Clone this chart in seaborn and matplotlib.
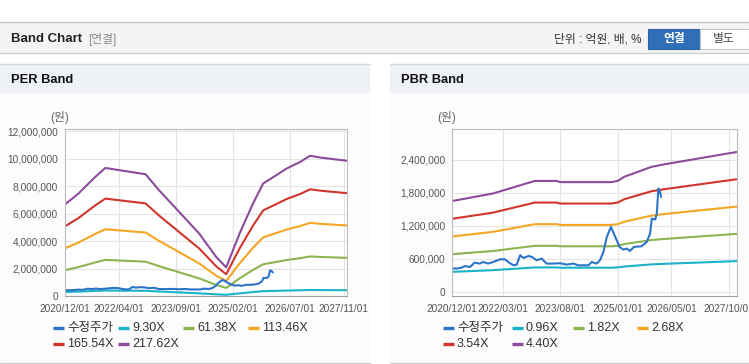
import pandas as pd
import matplotlib
matplotlib.use('Agg')
import matplotlib.pyplot as plt
from matplotlib.lines import Line2D
from matplotlib.patches import Rectangle
from matplotlib.ticker import FuncFormatter
import seaborn as sns

# adjusted close (수정주가) - same series on both charts
price_dates = ['2020-12-01', '2021-01-15', '2021-02-25', '2021-03-25', '2021-05-10', '2021-06-20',
               '2021-08-05', '2021-09-05', '2021-10-20', '2021-12-05', '2022-02-05', '2022-03-20',
               '2022-04-20', '2022-06-05', '2022-07-05', '2022-08-05', '2022-09-05', '2022-10-20',
               '2022-11-20', '2023-01-01', '2023-02-15', '2023-04-01', '2023-06-01', '2023-08-01',
               '2023-09-28', '2023-11-28', '2024-01-12', '2024-04-12', '2024-05-12', '2024-06-25',
               '2024-07-25', '2024-08-25', '2024-09-25', '2024-11-01', '2024-12-10', '2025-01-18',
               '2025-02-20', '2025-03-25', '2025-04-20', '2025-05-28', '2025-08-05', '2025-09-20',
               '2025-10-20', '2025-11-05', '2025-12-05', '2025-12-20', '2026-01-03', '2026-01-18',
               '2026-01-28']
price_values = [420000, 420000, 436000, 465000, 447000, 527000, 509000, 538000, 509000, 538000,
                587000, 587000, 538000, 478000, 491000, 660000, 611000, 647000, 629000, 569000,
                600000, 509000, 509000, 515000, 491000, 509000, 478000, 478000, 538000, 509000,
                569000, 720000, 993000, 1175000, 993000, 811000, 764000, 782000, 738000, 811000,
                824000, 902000, 1055000, 1327000, 1309000, 1418000, 1873000, 1811000, 1720000]

# PER band
per_dates = ['2020-12-01', '2021-04-01', '2021-09-01', '2021-12-01', '2022-04-01', '2022-12-01',
             '2023-04-01', '2023-10-01', '2024-04-01', '2024-09-01', '2024-12-01', '2025-04-01',
             '2025-08-01', '2025-11-01', '2026-03-01', '2026-06-01', '2026-10-01', '2027-01-01',
             '2027-04-01', '2027-12-01']
per_labels = ['9.30X', '61.38X', '113.46X', '165.54X', '217.62X']
per_9_30 = [286000, 319000, 371000, 399000, 392000, 379000, 330000, 262000, 194000, 122000,
            89000, 194000, 288000, 351000, 377000, 397000, 418000, 437000, 432000, 421000]
per_61_38 = [1884000, 2105000, 2449000, 2633000, 2590000, 2504000, 2179000, 1731000, 1283000, 804000,
             589000, 1283000, 1903000, 2314000, 2486000, 2621000, 2756000, 2885000, 2848000, 2780000]
per_113_46 = [3483000, 3892000, 4527000, 4867000, 4788000, 4629000, 4028000, 3200000, 2371000, 1486000,
              1089000, 2371000, 3517000, 4277000, 4595000, 4845000, 5094000, 5333000, 5265000, 5140000]
per_165_54 = [5082000, 5678000, 6605000, 7102000, 6986000, 6754000, 5877000, 4668000, 3460000, 2169000,
              1589000, 3460000, 5132000, 6241000, 6704000, 7069000, 7433000, 7780000, 7681000, 7499000]
per_217_62 = [6681000, 7464000, 8683000, 9336000, 9184000, 8879000, 7725000, 6137000, 4548000, 2851000,
              2089000, 4548000, 6746000, 8204000, 8814000, 9292000, 9771000, 10228000, 10098000, 9858000]
per_ticks = ['2020-12-01', '2022-04-01', '2023-09-01', '2025-02-01', '2026-07-01', '2027-11-01']

# PBR band
pbr_dates = ['2020-12-01', '2021-12-01', '2022-12-15', '2023-07-01', '2023-08-01', '2024-11-01',
             '2025-01-01', '2025-03-01', '2025-11-01', '2026-03-01', '2027-12-16']
pbr_labels = ['0.96X', '1.82X', '2.68X', '3.54X', '4.40X']
pbr_0_96 = [359000, 389000, 439000, 439000, 434000, 434000, 439000, 455000, 494000, 505000, 554000]
pbr_1_82 = [681000, 737000, 832000, 832000, 823000, 823000, 832000, 863000, 937000, 957000, 1050000]
pbr_2_68 = [1002000, 1085000, 1225000, 1225000, 1211000, 1211000, 1225000, 1270000, 1380000, 1410000, 1546000]
pbr_3_54 = [1324000, 1434000, 1618000, 1618000, 1600000, 1600000, 1618000, 1678000, 1823000, 1862000, 2043000]
pbr_4_40 = [1646000, 1782000, 2011000, 2011000, 1989000, 1989000, 2011000, 2086000, 2266000, 2314000, 2539000]
pbr_ticks = ['2020-12-01', '2022-03-01', '2023-08-01', '2025-01-01', '2026-05-01', '2027-10-01']

price_name = '수정주가'
colors = ['#2d74c9', '#1bb3c9', '#8ab54f', '#f5a623', '#d1352c', '#8c4c9b']

sns.set_theme(style='white')
plt.rcParams['font.family'] = ['Liberation Sans', 'Noto Sans CJK KR', 'DejaVu Sans']

W, H = 749, 364
fig = plt.figure(figsize=(W / 100, H / 100), dpi=100)


def fx(x):
    return x / W


def fy(y):
    return 1 - y / H


def box(x0, y0, x1, y1, z=-5, **kw):
    fig.add_artist(Rectangle((fx(x0), fy(y1)), fx(x1) - fx(x0), fy(y0) - fy(y1),
                             transform=fig.transFigure, zorder=z, **kw))


def hline(x0, x1, y, color, lw=1):
    fig.add_artist(Line2D([fx(x0), fx(x1)], [fy(y), fy(y)], color=color, lw=lw,
                          transform=fig.transFigure, zorder=-4))


# header bar
box(0, 22, 749, 53, facecolor='#f4f4f4', edgecolor='none')
hline(0, 749, 22, '#c6c6c6')
hline(0, 749, 53, '#cfcfcf')
fig.text(fx(11), fy(39), 'Band Chart', fontsize=9.5, fontweight='bold', color='#222', va='center')
fig.text(fx(88), fy(39), '[연결]', fontsize=8.5, color='#8a8a8a', va='center')
fig.text(fx(642), fy(39), '단위 : 억원, 배, %', fontsize=8.5, color='#333', va='center', ha='right')
box(648, 29, 700, 49, z=-3, facecolor='#2e6fb8', edgecolor='#2a64a8', lw=0.8)
box(700, 29, 749, 49, z=-3, facecolor='white', edgecolor='#c8c8c8', lw=0.8)
fig.text(fx(674), fy(39), '연결', fontsize=8.5, fontweight='bold', color='white', va='center', ha='center')
fig.text(fx(724), fy(39), '별도', fontsize=8.5, color='#444', va='center', ha='center')

# panel frames
for x0, x1, title in [(0, 370, 'PER Band'), (390, 749, 'PBR Band')]:
    box(x0, 64, x1, 93, facecolor='#eef1f6', edgecolor='none')
    box(x0, 93, x1, 363, facecolor='#fcfcfc', edgecolor='none')
    hline(x0, x1, 64, '#d6d6d6')
    hline(x0, x1, 363, '#d0d0d0')
    fig.text(fx(x0 + 11), fy(80), title, fontsize=9.3, fontweight='bold', color='#111', va='center')


def long_frame(dates, labels, bands):
    parts = [pd.DataFrame({'date': pd.to_datetime(dates), 'value': v, 'series': name})
             for name, v in zip(labels, bands)]
    parts.append(pd.DataFrame({'date': pd.to_datetime(price_dates), 'value': price_values,
                               'series': price_name}))
    return pd.concat(parts, ignore_index=True)


def draw_panel(rect, df, labels, ticks, xlim, ylim, yticks, unit_x, legend_x):
    ax = fig.add_axes(rect)
    ax.set_facecolor('white')
    order = labels + [price_name]
    pal = dict(zip([price_name] + labels, colors))
    sns.lineplot(data=df, x='date', y='value', hue='series', hue_order=order, palette=pal,
                 estimator=None, linewidth=1.5, legend=False, ax=ax)
    ax.set_xlim(pd.to_datetime(xlim[0]), pd.to_datetime(xlim[1]))
    ax.set_ylim(*ylim)
    ax.set_yticks(yticks)
    ax.yaxis.set_major_formatter(FuncFormatter(lambda v, p: f'{int(v):,}'))
    ax.set_xticks(pd.to_datetime(ticks))
    ax.set_xticklabels([t.replace('-', '/') for t in ticks])
    ax.set_xlabel('')
    ax.set_ylabel('')
    ax.grid(True, color='#e4e4e4', lw=0.8)
    ax.set_axisbelow(True)
    for s in ax.spines.values():
        s.set_color('#bdbdbd')
        s.set_linewidth(0.8)
    ax.spines['bottom'].set_color('#a0a0a0')
    ax.tick_params(axis='both', length=3, width=0.8, color='#9a9a9a', labelsize=7.3,
                   labelcolor='#555', pad=2)
    ax.tick_params(axis='x', pad=3)
    fig.text(fx(unit_x), fy(118), '(원)', fontsize=8.5, color='#666', ha='center', va='center')

    # legend, laid out like the original widget
    names = [price_name] + labels
    rows = [328, 344]
    for i, (name, c) in enumerate(zip(names, colors)):
        x = legend_x[i % 4]
        y = rows[i // 4]
        fig.add_artist(Line2D([fx(x), fx(x + 11)], [fy(y), fy(y)], color=c, lw=2.4,
                              transform=fig.transFigure, solid_capstyle='butt'))
        fig.text(fx(x + 14), fy(y), name, fontsize=9, color='#333', va='center')
    return ax


per_df = long_frame(per_dates, per_labels, [per_9_30, per_61_38, per_113_46, per_165_54, per_217_62])
pbr_df = long_frame(pbr_dates, pbr_labels, [pbr_0_96, pbr_1_82, pbr_2_68, pbr_3_54, pbr_4_40])

draw_panel([fx(65), fy(296), fx(347) - fx(65), fy(128.7) - fy(296)], per_df, per_labels, per_ticks,
           ('2020-12-01', '2027-12-01'), (0, 12200000), range(0, 12000001, 2000000),
           60, [53, 118, 183, 248])
draw_panel([fx(452.3), fy(296), fx(737.3) - fx(452.3), fy(128.7) - fy(296)], pbr_df, pbr_labels, pbr_ticks,
           ('2020-12-01', '2027-12-16'), (-80000, 2960000), range(0, 2400001, 600000),
           447, [443, 512, 573, 637])

fig.savefig('out.png', dpi=100)
